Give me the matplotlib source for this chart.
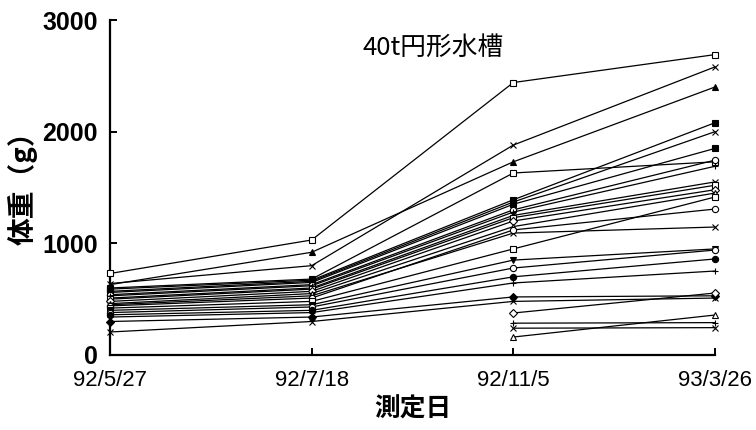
import numpy as np
import matplotlib
matplotlib.use("Agg")
import matplotlib.pyplot as plt

# Measurement dates (x categories)
dates = ["92/5/27", "92/7/18", "92/11/5", "93/3/26"]

# Body weight (g) of each fish at each measurement date; nan = not yet stocked
fish01 = [730, 1030, 2440, 2690]
fish02 = [640, 800, 1880, 2580]
fish03 = [630, 920, 1730, 2400]
fish04 = [600, 680, 1630, 1730]
fish05 = [590, 670, 1390, 2080]
fish06 = [570, 660, 1370, 2000]
fish07 = [560, 650, 1350, 1850]
fish08 = [540, 630, 1300, 1745]
fish09 = [530, 620, 1280, 1690]
fish10 = [510, 600, 1250, 1550]
fish11 = [500, 590, 1230, 1520]
fish12 = [480, 570, 1200, 1480]
fish13 = [460, 550, 1150, 1450]
fish14 = [450, 530, 1092, 1146]
fish15 = [440, 510, 1120, 1307]
fish16 = [420, 480, 950, 1415]
fish17 = [400, 450, 850, 950]
fish18 = [380, 430, 779, 940]
fish19 = [360, 400, 700, 860]
fish20 = [340, 380, 645, 752]
fish21 = [300, 340, 520, 530]
fish22 = [206, 300, 480, 510]
fish23 = [np.nan, np.nan, 376, 555]
fish24 = [np.nan, np.nan, 285, 290]
fish25 = [np.nan, np.nan, 240, 245]
fish26 = [np.nan, np.nan, 161, 358]

series = [fish01, fish02, fish03, fish04, fish05, fish06, fish07, fish08,
          fish09, fish10, fish11, fish12, fish13, fish14, fish15, fish16,
          fish17, fish18, fish19, fish20, fish21, fish22, fish23, fish24,
          fish25, fish26]

# marker symbol, filled?
styles = [("s", False), ("x", False), ("^", True), ("s", False),
          ("s", True), ("x", False), ("s", True), ("o", False),
          ("+", False), ("x", False), ("s", False), ("D", False),
          ("^", False), ("x", False), ("o", False), ("s", False),
          ("v", True), ("o", False), ("o", True), ("+", False),
          ("D", True), ("x", False), ("D", False), ("+", False),
          ("x", False), ("^", False)]

jp = ["Noto Sans CJK JP", "DejaVu Sans"]
num = ["Liberation Sans", "DejaVu Sans"]

fig = plt.figure(figsize=(7.56, 4.30), dpi=100)
ax = fig.add_axes([110 / 756, 75 / 430, 605 / 756, 335 / 430])

x = np.arange(len(dates))
for vals, (mk, filled) in zip(series, styles):
    ax.plot(x, vals, color="black", lw=0.9, marker=mk, markersize=4.5,
            markeredgewidth=0.8, markeredgecolor="black",
            markerfacecolor="black" if filled else "white", clip_on=False,
            zorder=3)

ax.set_xlim(0, 3)
ax.set_ylim(0, 3000)
ax.set_xticks(x)
ax.set_xticklabels(dates, family=num, fontsize=16)
ax.set_yticks([0, 1000, 2000, 3000])
ax.set_yticklabels(["0", "1000", "2000", "3000"], family=num, fontsize=18,
                   fontweight="bold")

for side in ("top", "right"):
    ax.spines[side].set_visible(False)
for side in ("left", "bottom"):
    ax.spines[side].set_linewidth(1.6)

ax.tick_params(axis="both", direction="in", length=5, width=1.4)
ax.tick_params(axis="y", pad=9)
ax.tick_params(axis="x", pad=11)

ax.set_ylabel("体重（g）", family=jp, fontsize=20, fontweight="bold")
ax.yaxis.set_label_coords(-0.12, 0.52)
ax.set_xlabel("測定日", family=jp, fontsize=18.5, fontweight="bold")
ax.xaxis.set_label_coords(0.5, -0.122)

ax.text(1.60, 2750, "40t円形水槽", family=jp, fontsize=18.5,
        ha="center", va="center")

fig.savefig("out.png", dpi=100)
